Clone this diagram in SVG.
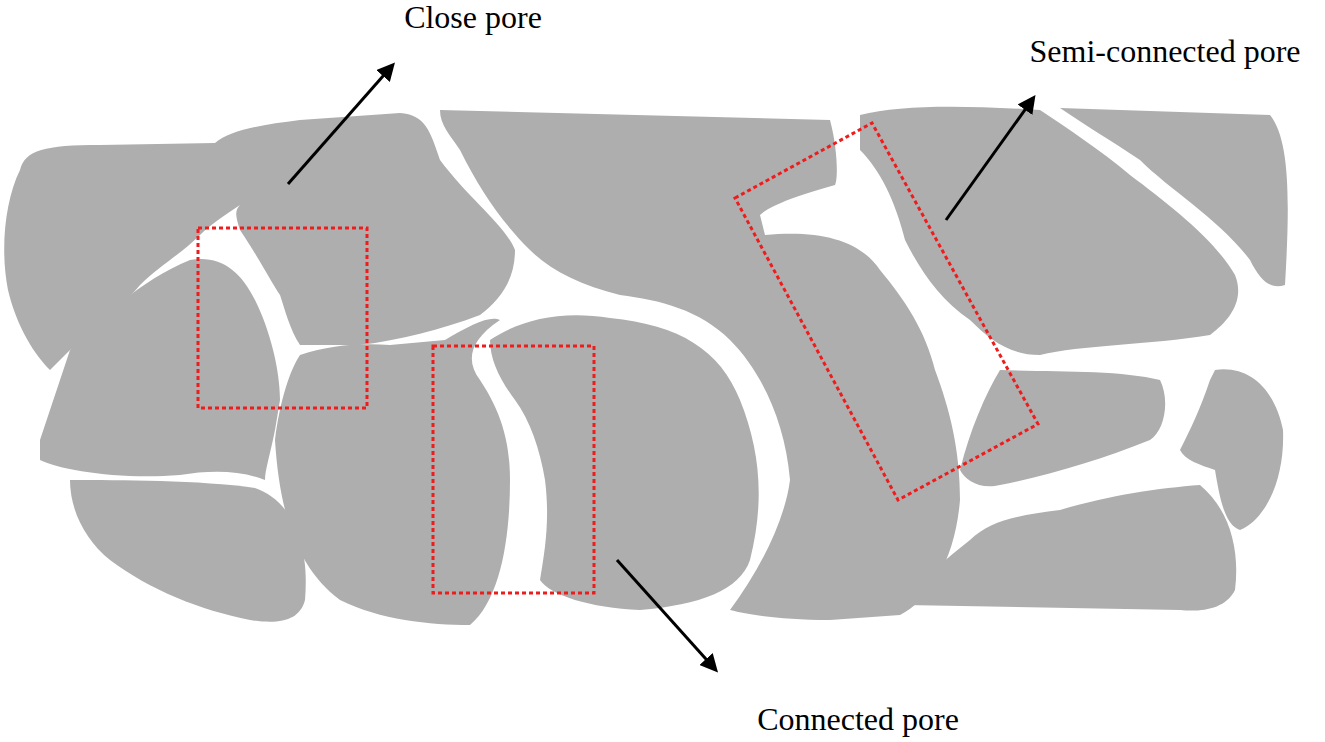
<svg xmlns="http://www.w3.org/2000/svg" width="1325" height="742" viewBox="0 0 1325 742">
<style>
.g{fill:#aeaeae}
.box{fill:none;stroke:#ee1c1c;stroke-width:3;stroke-dasharray:4 3}
.ar{stroke:#000;stroke-width:3;marker-end:url(#ah)}
text{font-family:"Liberation Serif",serif;font-size:32px;fill:#000;text-anchor:middle}
</style>
<defs><marker id="ah" markerWidth="6" markerHeight="6" refX="4" refY="3" orient="auto" markerUnits="strokeWidth"><path d="M0,0 L6,3 L0,6 Z" fill="#000"/></marker></defs>
<rect width="1325" height="742" fill="#fff"/>
<g id="grains">
<path class="g" d="M20,170 C25,150 45,145 100,145 L215,143 C230,130 260,125 300,120 L400,113 C425,115 430,130 440,160 C470,200 505,225 515,250 C515,280 500,300 480,315 C440,330 400,340 360,345 L300,345 C290,330 285,310 280,295 C270,280 260,260 240,230 C235,215 235,210 240,205 C225,215 210,225 200,235 C180,255 160,265 140,285 C110,320 85,340 70,350 L50,370 C30,350 15,320 8,290 C0,250 5,200 20,170 Z"/>
<path class="g" d="M40,440 C50,410 60,380 70,350 C100,320 140,280 190,260 C220,255 240,270 255,300 C270,330 280,370 280,400 L275,430 C270,455 265,470 265,480 C240,470 210,470 180,475 C120,480 60,470 40,460 Z"/>
<path class="g" d="M70,480 C120,480 200,480 255,488 C290,500 310,540 305,600 C300,620 280,625 250,620 C200,610 150,590 110,560 C85,540 70,510 70,480 Z"/>
<path class="g" d="M275,440 C280,400 290,370 300,355 C330,345 360,343 390,345 L445,340 C470,325 490,315 500,320 C470,340 465,360 480,380 C500,410 510,440 510,480 C510,540 500,600 470,625 C430,625 380,620 340,600 C300,570 280,520 275,440 Z"/>
<path class="g" d="M490,340 C520,320 560,310 610,318 C680,325 720,350 740,400 C760,450 765,500 750,560 C740,590 700,605 640,610 C590,608 550,595 540,580 C545,550 550,520 545,480 C540,450 530,420 515,400 C500,380 490,360 490,340 Z"/>
<path class="g" d="M440,110 L830,120 C838,150 838,180 835,185 C800,195 770,205 760,215 L765,235 C820,230 860,240 880,270 C905,300 925,330 935,370 C950,410 960,450 960,500 C955,560 930,600 900,615 L830,620 C780,620 750,615 730,610 C760,570 785,520 790,480 C785,420 760,370 730,340 C700,310 660,300 620,295 C580,285 550,270 530,250 C500,220 480,190 460,150 C450,135 440,125 440,110 Z"/>
<path class="g" d="M860,115 C900,105 960,105 1040,110 C1070,130 1100,150 1130,175 C1170,205 1215,240 1235,275 C1245,300 1230,320 1210,335 C1150,345 1080,345 1040,355 C1010,355 990,340 970,320 C940,300 920,270 905,240 C895,200 880,170 860,150 Z"/>
<path class="g" d="M1060,108 L1270,115 C1290,140 1290,200 1285,285 C1270,290 1260,280 1250,260 C1220,220 1170,190 1140,160 C1110,140 1085,125 1060,108 Z"/>
<path class="g" d="M1000,370 C1060,372 1120,370 1160,380 C1170,400 1165,430 1150,440 C1100,460 1050,475 1000,485 C980,490 965,480 960,470 C970,430 985,395 1000,370 Z"/>
<path class="g" d="M1215,370 C1250,365 1275,390 1283,430 C1285,480 1265,520 1240,530 C1225,525 1220,500 1215,470 C1200,465 1185,460 1180,450 C1190,430 1200,410 1210,380 Z"/>
<path class="g" d="M970,540 C990,520 1020,515 1060,510 C1110,495 1160,488 1200,485 C1230,510 1240,550 1235,590 C1225,610 1200,612 1180,610 L905,605 C920,580 945,560 970,540 Z"/>
</g>
<g id="boxes">
<rect class="box" x="198" y="228" width="169" height="180"/>
<rect class="box" x="433" y="346" width="161" height="247"/>
<polygon class="box" points="735,198 872,123 1038,424 898,500"/>
</g>
<g id="connectors">
<line class="ar" x1="288" y1="184" x2="391" y2="67"/>
<line class="ar" x1="617" y1="560" x2="714" y2="668"/>
<line class="ar" x1="946" y1="220" x2="1032" y2="100"/>
</g>
<text x="473" y="28">Close pore</text>
<text x="858" y="730">Connected pore</text>
<text x="1165" y="62">Semi-connected pore</text>
</svg>
